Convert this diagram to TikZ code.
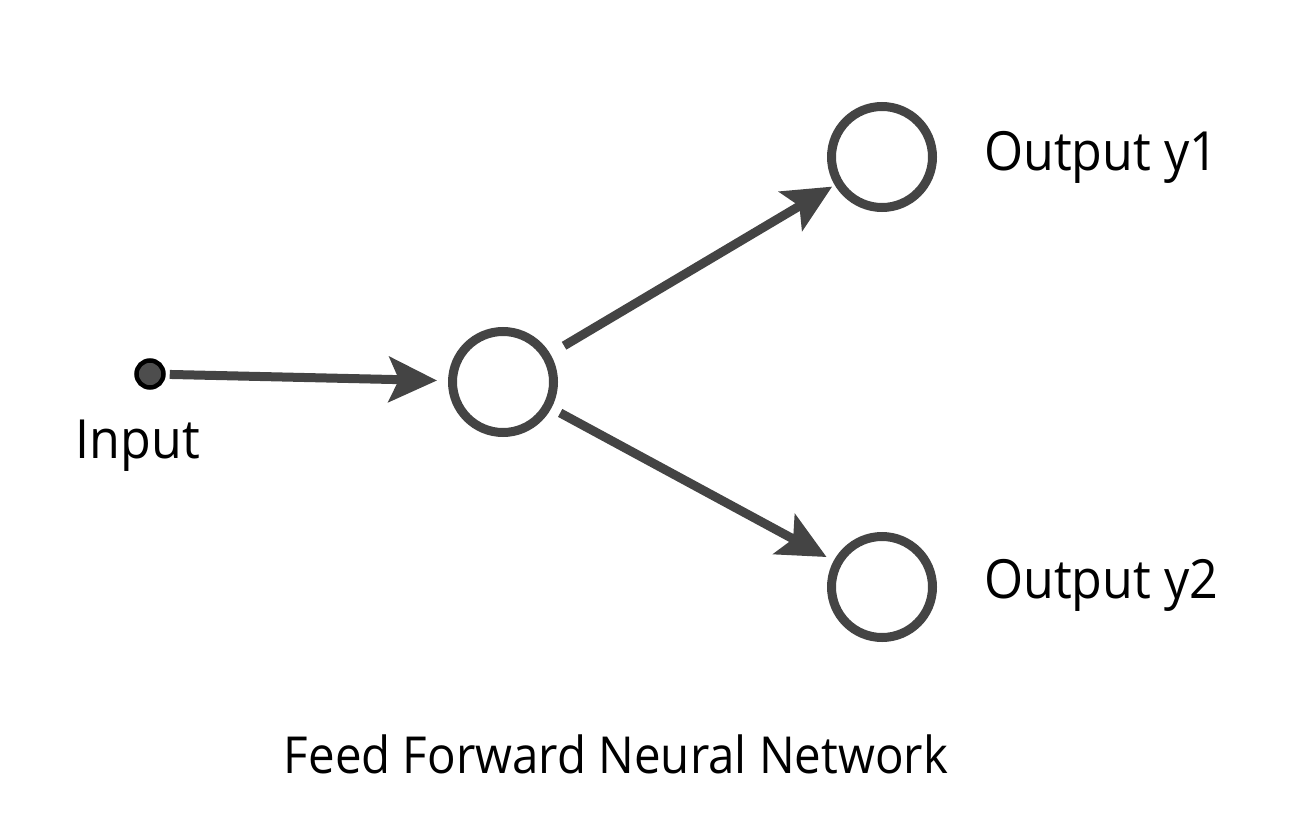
\documentclass[tikz,border=0pt]{standalone}
\usepackage{fontspec}
\setmainfont{Open Sans}[FakeStretch=0.93]
\usetikzlibrary{arrows.meta}
\definecolor{ink}{HTML}{444444}
\definecolor{dotfill}{HTML}{4D4D4D}
\begin{document}
\begin{tikzpicture}[x=1pt,y=-1pt,
  neuron/.style={circle,draw=ink,line width=9pt,minimum size=101pt,inner sep=0pt,fill=white},
  inputdot/.style={circle,draw=black,line width=4.5pt,fill=dotfill,minimum size=27pt,inner sep=0pt},
  conn/.style={draw=ink,line width=9pt,-{Stealth[length=48pt,width=45pt,inset=10pt]}},
  lbl/.style={font=\fontsize{54}{58}\selectfont,text=black,inner sep=0pt},
  ttl/.style={font=\fontsize{51}{55}\selectfont,text=black,inner sep=0pt}]
\useasboundingbox (0,0) rectangle (1300,829);
\node[inputdot] (in) at (150,374) {};
\node[neuron] (h) at (503,382) {};
\node[neuron] (o1) at (882,157) {};
\node[neuron] (o2) at (882,587) {};
\draw[conn,shorten <=4pt,shorten >=11pt] (in) -- (h);
\draw[conn,shorten <=16pt,shorten >=3pt] (h) -- (o1);
\draw[conn,shorten <=10pt,shorten >=8pt] (h) -- (o2);
\node[lbl,anchor=base] (inl) at (138,458) {Input};
\node[lbl,anchor=base west] (o1l) at (984,171) {Output y1};
\node[lbl,anchor=base west] (o2l) at (984,598) {Output y2};
\node[ttl,anchor=base] (title) at (616,773) {Feed Forward Neural Network};
\end{tikzpicture}
\end{document}
